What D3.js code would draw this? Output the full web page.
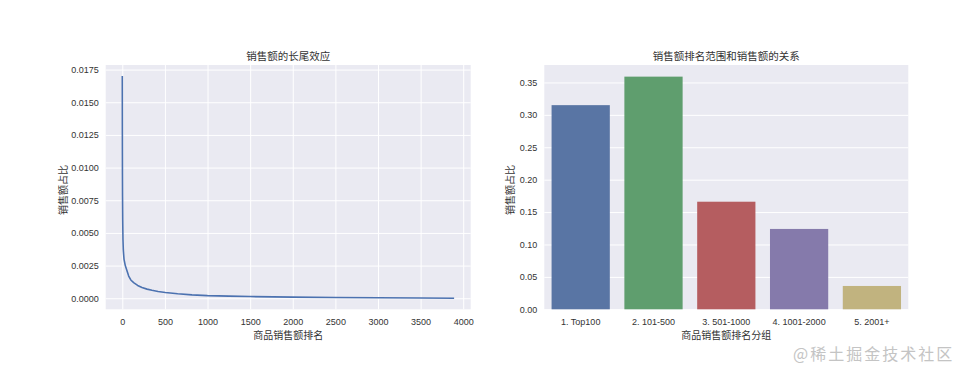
<!DOCTYPE html>
<html>
<head>
<meta charset="utf-8">
<script src="https://cdn.jsdelivr.net/npm/d3@7"></script>
<style>
	body { margin: 0; background: #fff; }
	text { font-family: "Liberation Sans", "Noto Sans CJK SC", sans-serif; fill: #333; }
	.cjk { font-family: "Noto Sans CJK SC", sans-serif; }
</style>
</head>
<body>
<div id="chart"></div>
<script>
// 长尾曲线 (排名, 销售额占比)
const rankData = [0, 1, 2, 3, 5, 8, 12, 20, 35, 55, 75, 100, 133, 180, 231, 290, 348, 420, 505, 650, 818, 1000, 1250, 1500, 2000, 2500, 3000, 3500, 3893];
const shareData = [0.0170, 0.0125, 0.0095, 0.0078, 0.0060, 0.0045, 0.0037, 0.0030, 0.0025, 0.0021, 0.0017, 0.0014, 0.0012, 0.00098, 0.00082, 0.0007, 0.00061, 0.00052, 0.00044, 0.00034, 0.00026, 0.0002, 0.00016, 0.00013, 0.00009, 0.00006, 0.00004, 0.00002, 0.000005];
const xTicks1 = [0, 500, 1000, 1500, 2000, 2500, 3000, 3500, 4000];
const yTicks1 = [0, 0.0025, 0.005, 0.0075, 0.01, 0.0125, 0.015, 0.0175];

// 排名分组
const groups = ["1. Top100", "2. 101-500", "3. 501-1000", "4. 1001-2000", "5. 2001+"];
const groupShare = [0.315, 0.359, 0.166, 0.124, 0.036];
const groupColors = ["#5975a4", "#5f9e6e", "#b55d60", "#857aab", "#c1b37f"];
const yTicks2 = [0, 0.05, 0.1, 0.15, 0.2, 0.25, 0.3, 0.35];

const width = 967, height = 381;
const svg = d3.select("#chart").append("svg")
	.attr("width", width)
	.attr("height", height);

const plotTop = 65, plotBottom = 309.3;

function styleGrid(g) {
	g.select(".domain").remove();
	g.selectAll(".tick line").attr("stroke", "#fff").attr("stroke-width", 1);
	g.selectAll(".tick text").attr("font-size", 9).attr("fill", "#333");
}

// ---------- 左图 ----------
const L = { x0: 105.7, x1: 470.7 };
const xPad = (d3.max(rankData) - d3.min(rankData)) * 0.05;
const x1 = d3.scaleLinear()
	.domain([d3.min(rankData) - xPad, d3.max(rankData) + xPad])
	.range([L.x0, L.x1]);
const yPad = (d3.max(shareData) - d3.min(shareData)) * 0.05;
const y1 = d3.scaleLinear()
	.domain([d3.min(shareData) - yPad, d3.max(shareData) + yPad])
	.range([plotBottom, plotTop]);

svg.append("rect")
	.attr("x", L.x0).attr("y", plotTop)
	.attr("width", L.x1 - L.x0).attr("height", plotBottom - plotTop)
	.attr("fill", "#eaeaf2");

svg.append("g")
	.attr("transform", `translate(0,${plotBottom})`)
	.call(d3.axisBottom(x1).tickValues(xTicks1).tickSize(-(plotBottom - plotTop)).tickPadding(9).tickFormat(d3.format("d")))
	.call(styleGrid);

svg.append("g")
	.attr("transform", `translate(${L.x0},0)`)
	.call(d3.axisLeft(y1).tickValues(yTicks1).tickSize(-(L.x1 - L.x0)).tickPadding(7).tickFormat(d3.format(".4f")))
	.call(styleGrid);

const line = d3.line()
	.x((d, i) => x1(rankData[i]))
	.y(d => y1(d));

svg.append("path")
	.datum(shareData)
	.attr("d", line)
	.attr("fill", "none")
	.attr("stroke", "#4c72b0")
	.attr("stroke-width", 1.6)
	.attr("stroke-linejoin", "round");

svg.append("text")
	.attr("class", "cjk")
	.attr("x", (L.x0 + L.x1) / 2).attr("y", 60)
	.attr("text-anchor", "middle")
	.attr("font-size", 10.5)
	.text("销售额的长尾效应");

svg.append("text")
	.attr("class", "cjk")
	.attr("x", (L.x0 + L.x1) / 2).attr("y", 339)
	.attr("text-anchor", "middle")
	.attr("font-size", 10)
	.text("商品销售额排名");

svg.append("text")
	.attr("class", "cjk")
	.attr("transform", `translate(${66.5},${190}) rotate(-90)`)
	.attr("text-anchor", "middle")
	.attr("font-size", 10)
	.text("销售额占比");

// ---------- 右图 ----------
const R = { x0: 544.3, x1: 908.3 };
const x2 = d3.scaleBand()
	.domain(groups)
	.range([R.x0, R.x1])
	.paddingInner(0.2)
	.paddingOuter(0.1);
const y2 = d3.scaleLinear()
	.domain([0, d3.max(groupShare) * 1.05])
	.range([plotBottom, plotTop]);

svg.append("rect")
	.attr("x", R.x0).attr("y", plotTop)
	.attr("width", R.x1 - R.x0).attr("height", plotBottom - plotTop)
	.attr("fill", "#eaeaf2");

svg.append("g")
	.attr("transform", `translate(${R.x0},0)`)
	.call(d3.axisLeft(y2).tickValues(yTicks2).tickSize(-(R.x1 - R.x0)).tickPadding(7).tickFormat(d3.format(".2f")))
	.call(styleGrid);

svg.append("g")
	.selectAll("rect")
	.data(groupShare)
	.enter()
	.append("rect")
	.attr("x", (d, i) => x2(groups[i]))
	.attr("y", d => y2(d))
	.attr("width", x2.bandwidth())
	.attr("height", d => y2(0) - y2(d))
	.attr("fill", (d, i) => groupColors[i]);

svg.append("g")
	.attr("transform", `translate(0,${plotBottom})`)
	.call(d3.axisBottom(x2).tickSize(0).tickPadding(9))
	.call(g => {
		g.select(".domain").remove();
		g.selectAll(".tick text").attr("font-size", 9).attr("fill", "#333");
	});

svg.append("text")
	.attr("class", "cjk")
	.attr("x", (R.x0 + R.x1) / 2).attr("y", 60)
	.attr("text-anchor", "middle")
	.attr("font-size", 10.5)
	.text("销售额排名范围和销售额的关系");

svg.append("text")
	.attr("class", "cjk")
	.attr("x", (R.x0 + R.x1) / 2).attr("y", 339)
	.attr("text-anchor", "middle")
	.attr("font-size", 10)
	.text("商品销售额排名分组");

svg.append("text")
	.attr("class", "cjk")
	.attr("transform", `translate(${513.5},${190}) rotate(-90)`)
	.attr("text-anchor", "middle")
	.attr("font-size", 10)
	.text("销售额占比");

// 水印
svg.append("text")
	.attr("class", "cjk")
	.attr("x", 793).attr("y", 360)
	.attr("font-size", 16)
	.attr("letter-spacing", 2)
	.style("fill", "#c4c4c4")
	.text("@稀土掘金技术社区");
</script>
</body>
</html>
